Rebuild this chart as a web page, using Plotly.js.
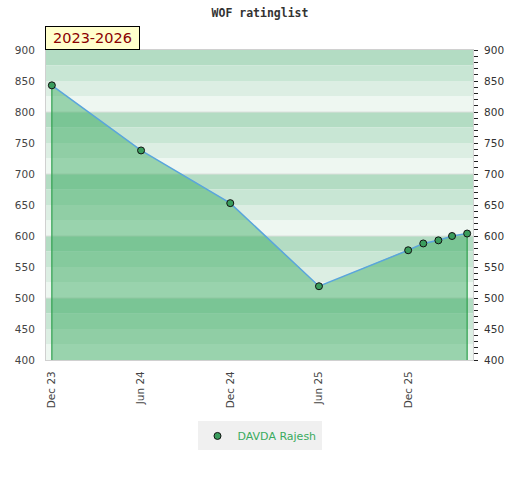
<!DOCTYPE html>
<html>
<head>
<meta charset="utf-8">
<script src="https://cdn.plot.ly/plotly-3.0.1.min.js"></script>
<style>html,body{margin:0;padding:0;background:#fff;}#chart{width:520px;height:480px;}</style>
</head>
<body>
<div id="chart"></div>
<script>
// ---- data ----
var playerName = "DAVDA Rajesh";
var chartTitle = "WOF ratinglist";
var periodLabel = "2023-2026";
var dates = ["2023-12-01", "2024-06-01", "2024-12-01", "2025-06-01", "2025-12-01", "2026-01-01", "2026-02-01", "2026-03-01", "2026-04-01"];
var ratings = [843, 738, 653, 519, 577, 588, 593, 600, 604];
var xTickVals = ["2023-12-01", "2024-06-01", "2024-12-01", "2025-06-01", "2025-12-01"];
var xTickText = ["Dec 23", "Jun 24", "Dec 24", "Jun 25", "Dec 25"];
var yTickVals = [400, 450, 500, 550, 600, 650, 700, 750, 800, 850, 900];
var yMin = 400, yMax = 900;
var xRange = ["2023-11-19", "2026-04-13"];

// ---- styling ----
var bandColors = ["#b3dcc3", "#c8e6d4", "#dceee3", "#eef7f1"];
var shapes = [];
var bandIdx = 0;
for (var bandTop = yMax; bandTop > yMin; bandTop -= 25) {
  shapes.push({type: "rect", layer: "below", xref: "paper", yref: "y", x0: 0, x1: 1, y0: bandTop - 25, y1: bandTop,
    fillcolor: bandColors[bandIdx % 4], line: {width: 0}});
  bandIdx++;
}
for (var g = yMin + 100; g < yMax; g += 100) {
  shapes.push({type: "line", layer: "below", xref: "paper", yref: "y", x0: 0, x1: 1, y0: g, y1: g,
    line: {color: "#dcdfdc", width: 1}});
}

var last = dates.length - 1;
var fillTrace = {
  x: [dates[0]].concat(dates, [dates[last]]),
  y: [yMin].concat(ratings, [yMin]),
  mode: "lines", fill: "toself", fillcolor: "rgba(60,172,98,0.48)",
  line: {width: 0}, showlegend: false, hoverinfo: "skip"
};
var edgeTrace = {
  x: [dates[0], dates[0], null, dates[last], dates[last]],
  y: [yMin, ratings[0], null, yMin, ratings[last]],
  mode: "lines", line: {color: "#2fa04e", width: 1.2}, showlegend: false, hoverinfo: "skip"
};
var lineTrace = {
  x: dates, y: ratings, mode: "lines",
  line: {color: "#5aa5dc", width: 1.5}, showlegend: false
};
var markerTrace = {
  x: dates, y: ratings, mode: "markers", name: playerName,
  marker: {color: "#3a9d5d", size: 7, line: {color: "#111", width: 1}}
};
var rightTrace = {
  x: [dates[0]], y: [ratings[0]], yaxis: "y2", mode: "markers",
  marker: {opacity: 0}, showlegend: false, hoverinfo: "skip"
};

var axisFont = {family: "DejaVu Sans, Verdana, sans-serif", size: 10.5, color: "#444"};
var layout = {
  width: 520, height: 480,
  margin: {l: 46, r: 47, t: 50, b: 120},
  paper_bgcolor: "#ffffff", plot_bgcolor: "#ffffff",
  title: {text: chartTitle, x: 0.5, xanchor: "center", y: 0.973, yanchor: "middle",
    font: {family: "DejaVu Sans Mono, monospace", size: 11.5, color: "#333", weight: "bold"}},
  xaxis: {type: "date", range: xRange, tickvals: xTickVals, ticktext: xTickText, tickangle: -90,
    showgrid: false, zeroline: false, showline: true, mirror: true, linecolor: "#d0d0d0", linewidth: 1,
    ticks: "outside", ticklen: 6, tickcolor: "rgba(0,0,0,0)", tickfont: axisFont},
  yaxis: {range: [yMin, yMax], tickvals: yTickVals, showgrid: false, zeroline: false,
    showline: true, mirror: true, linecolor: "#d0d0d0", linewidth: 1,
    ticks: "outside", ticklen: 8, tickcolor: "rgba(0,0,0,0)", tickfont: axisFont},
  yaxis2: {range: [yMin, yMax], tickvals: yTickVals, overlaying: "y", side: "right", anchor: "x",
    showgrid: false, zeroline: false, showline: false,
    ticks: "outside", ticklen: 4, tickcolor: "#222", tickwidth: 1, ticklabelstandoff: 4,
    minor: {dtick: 10, ticks: "outside", ticklen: 4, tickcolor: "#222", tickwidth: 1, showgrid: false},
    tickfont: {family: "DejaVu Sans, Verdana, sans-serif", size: 10.5, color: "#333"}},
  shapes: shapes,
  annotations: [{text: periodLabel, xref: "paper", yref: "paper", x: -0.002, y: 1, xanchor: "left", yanchor: "bottom",
    showarrow: false, bgcolor: "#ffffcc", bordercolor: "#000", borderwidth: 1, borderpad: 0,
    width: 93, height: 22, align: "center", yshift: 0,
    font: {family: "DejaVu Sans, Verdana, sans-serif", size: 14.5, color: "#8b0000"}}],
  showlegend: true,
  legend: {orientation: "h", x: 0.5, xanchor: "center", y: -0.245, yanchor: "middle",
    bgcolor: "#f0f0f0", borderwidth: 0,
    font: {family: "DejaVu Sans, Verdana, sans-serif", size: 11, color: "#3aab5e"}}
};

Plotly.newPlot("chart", [fillTrace, edgeTrace, lineTrace, markerTrace, rightTrace], layout, {displayModeBar: false, staticPlot: true});
</script>
</body>
</html>
